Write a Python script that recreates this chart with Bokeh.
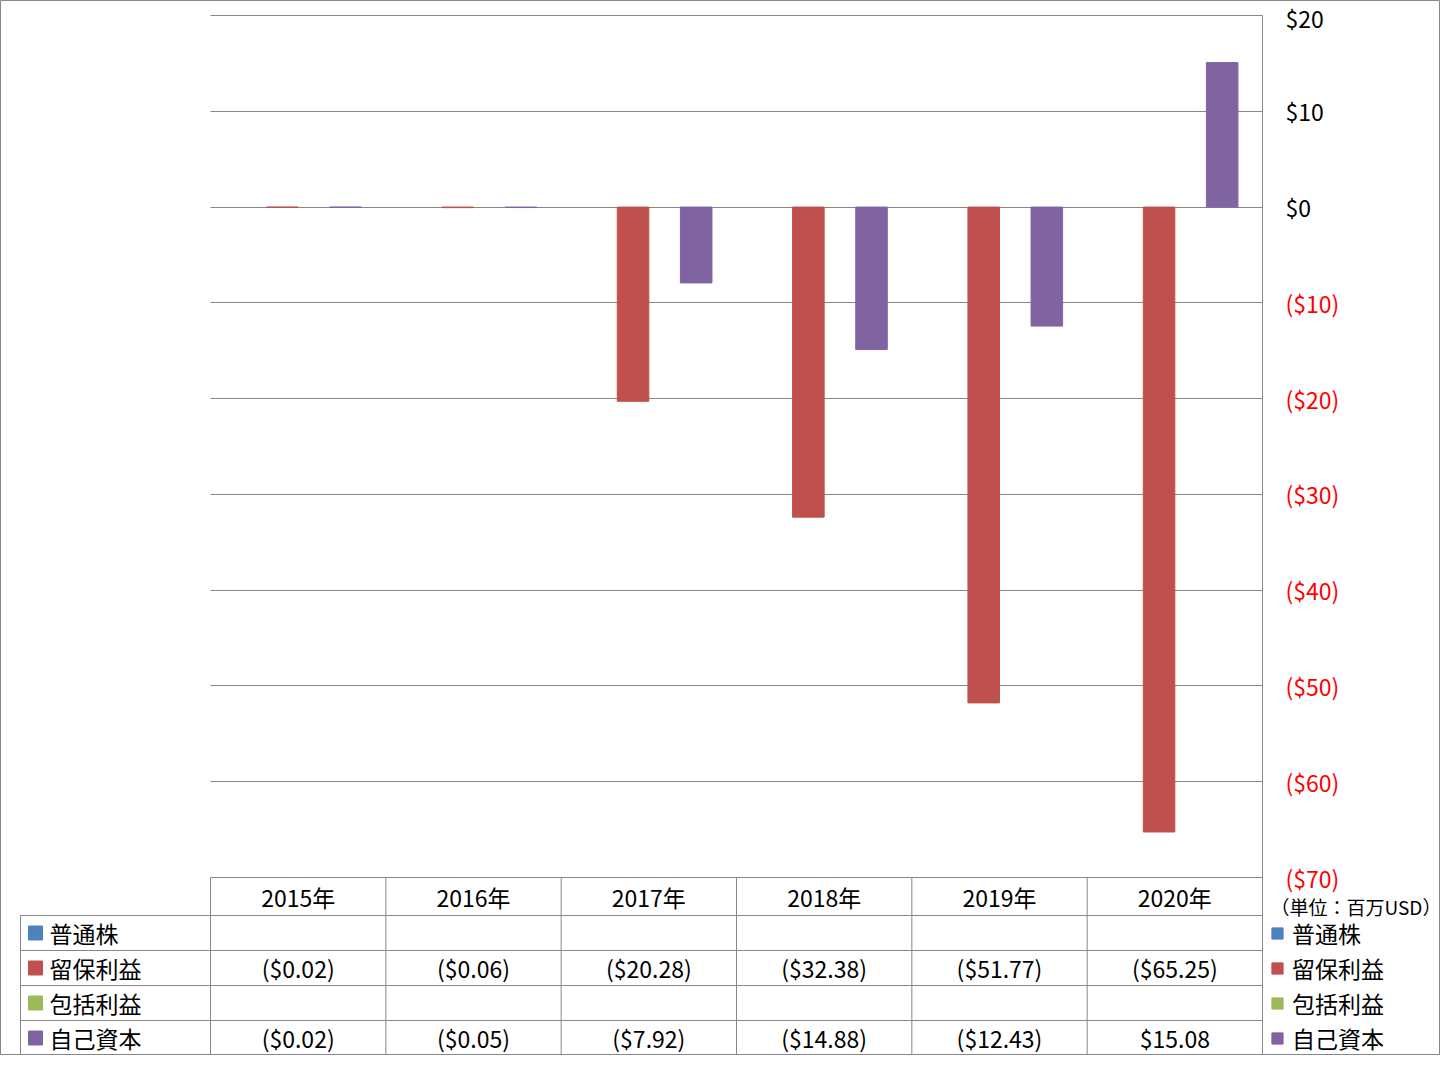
import numpy as np
from bokeh.plotting import figure
from bokeh.models import (Range1d, LinearAxis, FixedTicker, Grid, ColumnDataSource,
                          Legend, LegendItem)
from bokeh.core.properties import value
from bokeh.embed import file_html
from bokeh.resources import INLINE

# ---------------- data ----------------
YEARS = ["2015年", "2016年", "2017年", "2018年", "2019年", "2020年"]
SERIES = ["普通株", "留保利益", "包括利益", "自己資本"]
common_stock = [np.nan, np.nan, np.nan, np.nan, np.nan, np.nan]
retained_earnings = [-0.02, -0.06, -20.28, -32.38, -51.77, -65.25]
comprehensive_income = [np.nan, np.nan, np.nan, np.nan, np.nan, np.nan]
equity = [-0.02, -0.05, -7.92, -14.88, -12.43, 15.08]
Y_TICKS = [20, 10, 0, -10, -20, -30, -40, -50, -60, -70]
Y_TICK_LABELS = ["$20", "$10", "$0", "($10)", "($20)", "($30)", "($40)",
                 "($50)", "($60)", "($70)"]
UNIT_LABEL = "（単位：百万USD）"

# ---------------- style / layout ----------------
COLORS = ["#4F81BD", "#C0504D", "#9BBB59", "#8064A2"]
GRID = "#868686"
FONT = "Noto Sans CJK JP"
FS = "23px"

N = len(YEARS)
FIG_W, FIG_H = 1440, 1055
PX_X = 1052 / N            # px per category
PX_Y = 862 / 90            # px per value unit
X0_PX, YTOP_PX = 210, 15   # where x=0 and the top tick sit in the picture
x_start = -X0_PX / PX_X
x_end = (FIG_W - X0_PX) / PX_X
y_top_val = max(Y_TICKS)
y_end = y_top_val + YTOP_PX / PX_Y
y_start = y_top_val - (FIG_H - YTOP_PX) / PX_Y

BAR_W = 0.18
OFFSETS = [-0.27, -0.09, 0.09, 0.27]

TABLE_TOP = min(Y_TICKS)
HEADER_H = 38 / PX_Y
ROW_H = 35 / PX_Y
LABEL_LEFT = -190 / PX_X

p = figure(width=FIG_W, height=FIG_H, x_range=Range1d(x_start, x_end),
           y_range=Range1d(y_start, y_end), x_axis_location=None,
           y_axis_location=None, toolbar_location=None, tools="",
           output_backend="svg", min_border=0, min_border_left=0,
           min_border_right=0, min_border_top=0, min_border_bottom=0,
           outline_line_color=GRID, background_fill_color="white",
           border_fill_color="white")
p.xgrid.visible = False
p.ygrid.visible = False

grid = Grid(dimension=1, ticker=FixedTicker(ticks=Y_TICKS), cross_bounds=(0, N),
            grid_line_color=GRID, grid_line_width=1)
p.add_layout(grid)

# ---------------- bars ----------------
all_vals = [common_stock, retained_earnings, comprehensive_income, equity]
renderers = []
for vals, col, off in zip(all_vals, COLORS, OFFSETS):
    src = ColumnDataSource(dict(x=np.arange(N) + 0.5 + off,
                                top=np.array(vals, dtype=float)))
    r = p.vbar(x="x", top="top", bottom=0, width=BAR_W, source=src,
               fill_color=col, line_color=col, line_width=1)
    renderers.append(r)

# ---------------- right axes ----------------
pos_ticks = [t for t in Y_TICKS if t >= 0]
neg_ticks = [t for t in Y_TICKS if t < 0]
lab = dict(zip(Y_TICKS, Y_TICK_LABELS))

ax_pos = LinearAxis(ticker=FixedTicker(ticks=pos_ticks),
                    major_label_overrides={t: lab[t] for t in pos_ticks},
                    fixed_location=N, bounds=(y_start, y_top_val),
                    axis_line_color=GRID, major_tick_in=0, major_tick_out=0,
                    minor_tick_in=0, minor_tick_out=0, major_label_standoff=23,
                    major_label_text_font=FONT, major_label_text_font_size=FS,
                    major_label_text_color="black")
ax_neg = LinearAxis(ticker=FixedTicker(ticks=neg_ticks),
                    major_label_overrides={t: lab[t] for t in neg_ticks},
                    fixed_location=N, axis_line_color=None, major_tick_in=0,
                    major_tick_out=0, minor_tick_in=0, minor_tick_out=0,
                    major_label_standoff=23, major_label_text_font=FONT,
                    major_label_text_font_size=FS,
                    major_label_text_color="#FF0000")
p.add_layout(ax_pos, "right")
p.add_layout(ax_neg, "right")

# ---------------- data table ----------------
row_top = TABLE_TOP - HEADER_H
# vertical lines
vx = list(range(N)) + [LABEL_LEFT]
vy0 = [TABLE_TOP] * N + [row_top]
p.segment(x0=vx, y0=vy0, x1=vx, y1=[y_start] * len(vx), line_color=GRID,
          line_width=1)
# horizontal lines
hy = [row_top - ROW_H * k for k in range(len(SERIES))]
p.segment(x0=[LABEL_LEFT] * len(hy), y0=hy, x1=[N] * len(hy), y1=hy,
          line_color=GRID, line_width=1)

# header
p.text(x=np.arange(N) + 0.5, y=[TABLE_TOP - HEADER_H / 2] * N, text=YEARS,
       text_font=value(FONT), text_font_size=FS, text_align="center",
       text_baseline="middle", text_color="black")


def fmt(v):
    if v != v:
        return ""
    return "(${:.2f})".format(-v) if v < 0 else "${:.2f}".format(v)


row_centers = [row_top - ROW_H * (k + 0.5) for k in range(len(SERIES))]
for k, vals in enumerate(all_vals):
    p.text(x=np.arange(N) + 0.5, y=[row_centers[k]] * N,
           text=[fmt(v) for v in vals], text_font=value(FONT),
           text_font_size=FS, text_align="center", text_baseline="middle",
           text_color="black")

# row labels with colour keys
p.scatter(x=[(35 - X0_PX) / PX_X] * len(SERIES), y=row_centers,
          marker="square", size=14, fill_color=COLORS, line_color=COLORS)
p.text(x=[(49 - X0_PX) / PX_X] * len(SERIES), y=row_centers, text=SERIES,
       text_font=value(FONT), text_font_size=FS, text_align="left",
       text_baseline="middle", text_color="black")

# unit label
p.text(x=[N + 8 / PX_X], y=[TABLE_TOP - 29 / PX_Y], text=[UNIT_LABEL],
       text_font=value(FONT), text_font_size="19px", text_align="left",
       text_baseline="middle", text_color="black")

# legend on the right
legend = Legend(items=[LegendItem(label=s, renderers=[r])
                       for s, r in zip(SERIES, renderers)],
                location=(1270, 0), orientation="vertical",
                glyph_width=14, glyph_height=14, label_height=35, spacing=0,
                padding=0, margin=0, label_standoff=8,
                label_text_font=FONT, label_text_font_size=FS,
                label_text_color="black", border_line_color=None,
                background_fill_alpha=0)
p.add_layout(legend)

open("out.html", "w").write(file_html(p, INLINE))
